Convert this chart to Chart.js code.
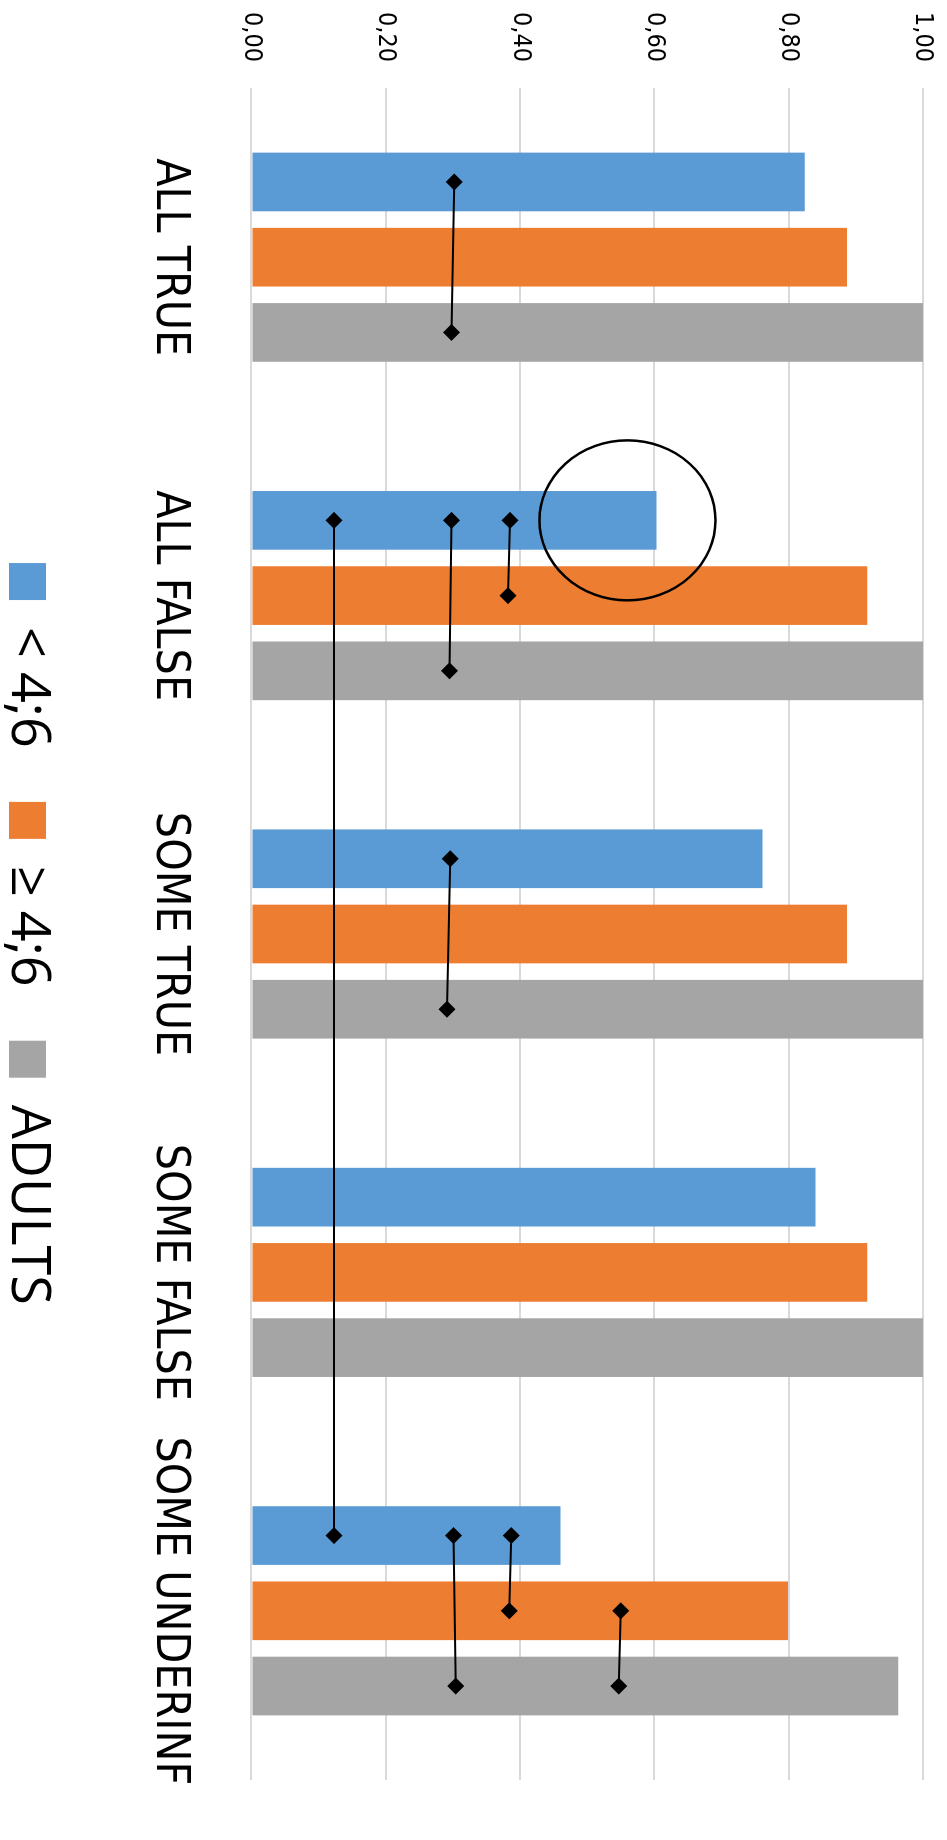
<!DOCTYPE html>
<html>
<head>
<meta charset="utf-8">
<script src="https://cdn.jsdelivr.net/npm/chart.js@4/dist/chart.umd.min.js"></script>
<style>
  html, body { margin: 0; padding: 0; overflow: hidden; background: #fff; }
  /* the chart is drawn as a normal column chart, then turned a quarter clockwise */
  #turn { position: absolute; left: 0; top: 0; width: 1840px; height: 960px;
          transform-origin: 0 0; transform: translate(947px, 0) rotate(90deg); }
</style>
</head>
<body>
<div id="turn"><canvas id="chart" width="1840" height="960" style="width:1840px;height:960px"></canvas></div>
<script>
// data
const categories = ['ALL TRUE', 'ALL FALSE', 'SOME TRUE', 'SOME FALSE', 'SOME UNDERINF'];
const seriesNames = ['< 4;6', '≥ 4;6', 'ADULTS'];
const youngerValues = [0.824, 0.603, 0.761, 0.840, 0.460];
const olderValues = [0.887, 0.917, 0.887, 0.917, 0.799];
const adultValues = [1.00, 1.00, 1.00, 1.00, 0.963];
const valueTicks = ['0,00', '0,20', '0,40', '0,60', '0,80', '1,00'];

// comparison links, each end is [category index, series index, value]
const linkStarts = [[0, 0, 0.302], [1, 0, 0.123], [1, 0, 0.298], [1, 0, 0.385],
                    [2, 0, 0.296], [4, 0, 0.301], [4, 0, 0.387], [4, 1, 0.550]];
const linkEnds = [[0, 2, 0.298], [4, 0, 0.123], [1, 2, 0.295], [1, 1, 0.382],
                  [2, 2, 0.291], [4, 2, 0.304], [4, 1, 0.384], [4, 2, 0.547]];

// the hand drawn circle: [category index, series index, value]
const circled = [1, 0, 0.56];

const colors = ['#5B9BD5', '#ED7D31', '#A5A5A5'];
const CAT_PCT = 0.667;

// position on the hidden linear axis, one unit per category
function slotX(cat, series) {
    return cat + 0.5 + (series - 1) * CAT_PCT / 3;
}

// bars and links share the linear axis 'xl'; the category axis 'x' only shows the labels
const barSets = [youngerValues, olderValues, adultValues].map((vals, i) => ({
    type: 'bar',
    label: seriesNames[i],
    data: vals.map((v, c) => ({ x: c + 0.5, y: v })),
    backgroundColor: colors[i],
    xAxisID: 'xl',
    order: 2,
    categoryPercentage: CAT_PCT,
    barPercentage: 0.78
}));

const linkSets = linkStarts.map((s, i) => {
    const e = linkEnds[i];
    return {
        type: 'line',
        label: 'link' + i,
        data: [{ x: slotX(s[0], s[1]), y: s[2] }, { x: slotX(e[0], e[1]), y: e[2] }],
        xAxisID: 'xl',
        order: 1,
        borderColor: '#000',
        backgroundColor: '#000',
        borderWidth: 2,
        pointStyle: 'rectRot',
        pointRadius: 8.5,
        pointBorderWidth: 0,
        fill: false
    };
});

const circlePlugin = {
    id: 'circle',
    afterDatasetsDraw(chart) {
        const ctx = chart.ctx;
        const cx = chart.scales.xl.getPixelForValue(slotX(circled[0], circled[1]));
        const cy = chart.scales.y.getPixelForValue(circled[2]);
        ctx.save();
        ctx.beginPath();
        ctx.ellipse(cx, cy, 80, 88, 0, 0, Math.PI * 2);
        ctx.lineWidth = 2.5;
        ctx.strokeStyle = '#000';
        ctx.stroke();
        ctx.restore();
    }
};

const narrow = "'DejaVu Sans Condensed', 'DejaVu Sans', sans-serif";

new Chart(document.getElementById('chart'), {
    type: 'bar',
    data: { labels: categories, datasets: barSets.concat(linkSets) },
    plugins: [circlePlugin],
    options: {
        responsive: false,
        animation: false,
        layout: { padding: { top: 24, right: 60, bottom: 3.5, left: 0 } },
        scales: {
            x: {
                type: 'category',
                position: 'bottom',
                offset: true,
                grid: { display: false, drawTicks: false },
                border: { display: false },
                ticks: { color: '#000', padding: 55, maxRotation: 0, autoSkip: false,
                         font: { family: narrow, size: 46 } },
                afterFit(s) { s.height = 143; s.paddingLeft = 0; s.paddingRight = 0; }
            },
            xl: {
                type: 'linear', display: false, min: 0, max: 5, offset: false,
                position: 'bottom', ticks: { stepSize: 1 }
            },
            y: {
                min: 0, max: 1,
                grid: { color: '#d9d9d9', lineWidth: 2, drawTicks: false },
                border: { display: false },
                ticks: { stepSize: 0.2, padding: 26, color: '#000',
                         font: { family: narrow, size: 25 },
                         callback: (v, i) => valueTicks[i] },
                afterFit(s) { s.width = 88; s.paddingTop = 0; s.paddingBottom = 0; }
            }
        },
        plugins: {
            legend: {
                position: 'bottom',
                fullSize: false,
                labels: {
                    boxWidth: 37, boxHeight: 37, padding: 54, color: '#000',
                    font: { family: "'Open Sans', sans-serif", size: 54 },
                    filter: item => item.datasetIndex < 3
                }
            },
            tooltip: { enabled: false }
        }
    }
});
</script>
</body>
</html>
